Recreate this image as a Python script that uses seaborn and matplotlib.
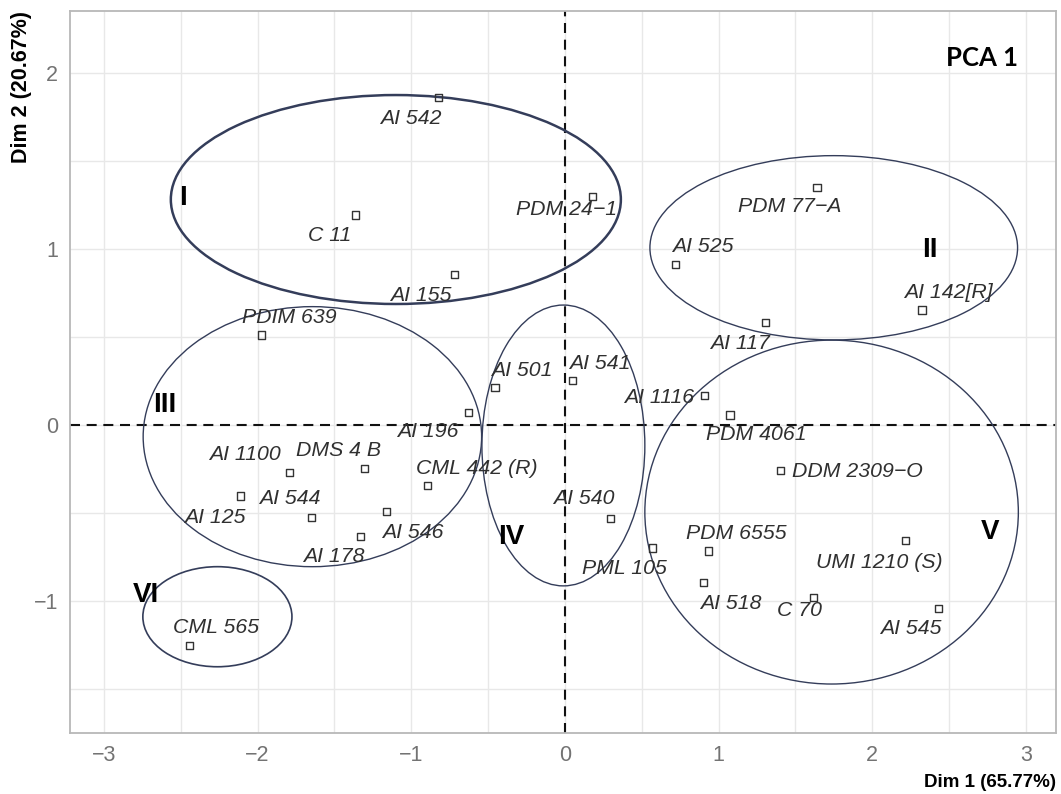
import matplotlib
matplotlib.use("Agg")
import matplotlib.pyplot as plt
from matplotlib.patches import Ellipse
from matplotlib.ticker import MultipleLocator
import pandas as pd
import seaborn as sns

# Genotype scores on the first two principal components
genotypes = [
    "AI 542", "C 11", "PDM 24\u22121", "AI 155", "PDIM 639", "AI 501", "AI 196",
    "AI 541", "AI 1116", "AI 117", "PDM 77\u2212A", "AI 525", "AI 142[R]",
    "PDM 4061", "DDM 2309\u2212O", "AI 1100", "DMS 4 B", "CML 442 (R)", "AI 125",
    "AI 544", "AI 546", "AI 178", "AI 540", "PML 105", "PDM 6555", "AI 518",
    "C 70", "UMI 1210 (S)", "AI 545", "CML 565",
]
dim1 = [
    -0.820, -1.364, 0.178, -0.720, -1.976, -0.455, -0.627,
    0.048, 0.911, 1.303, 1.640, 0.718, 2.323,
    1.074, 1.403, -1.789, -1.303, -0.896, -2.110,
    -1.646, -1.160, -1.329, 0.295, 0.568, 0.937, 0.900,
    1.620, 2.217, 2.429, -2.444,
]
dim2 = [
    1.858, 1.192, 1.296, 0.857, 0.511, 0.214, 0.070,
    0.255, 0.170, 0.583, 1.347, 0.912, 0.653,
    0.057, -0.259, -0.271, -0.246, -0.344, -0.403,
    -0.524, -0.492, -0.634, -0.528, -0.698, -0.715, -0.895,
    -0.978, -0.653, -1.040, -1.252,
]

# Cluster ellipses (centre and semi-axes in PC units)
clusters = ["I", "II", "III", "IV", "V", "VI"]
ell_cx = [-1.100, 1.749, -1.643, -0.010, 1.735, -2.261]
ell_cy = [1.280, 1.006, -0.066, -0.116, -0.494, -1.088]
ell_rx = [1.464, 1.196, 1.101, 0.530, 1.215, 0.485]
ell_ry = [0.593, 0.523, 0.738, 0.797, 0.976, 0.284]

# Label text offsets from each point, in pixels (repel-style placement)
label_dx = [-28, -26, -26, -33, 28, 27, -41, 27, -46, -25, -27, 28, 26,
            26, 77, -45, -26, 50, -26, -22, 26, -27, -26, -28, 27, 28,
            -14, -26, -27, 27]
label_dy = [-21, -20, -13, -21, 18, 17, -19, 17, -2, -21, -19, 18, 17,
            -20, -1, 18, 18, 17, -21, 19, -21, -20, 20, -20, 18, -21,
            -13, -22, -20, 18]

# Cluster numeral placement and ellipse stroke widths
cluster_tx = [-2.483, 2.375, -2.602, -0.347, 2.765, -2.726]
cluster_ty = [1.287, 0.993, 0.114, -0.634, -0.605, -0.965]
ell_lw = [1.8, 1.0, 1.0, 1.0, 1.0, 1.2]

df = pd.DataFrame({"genotype": genotypes, "Dim1": dim1, "Dim2": dim2})

sns.set_theme(style="white")
plt.rcParams["font.family"] = ["Liberation Sans", "DejaVu Sans"]

fig = plt.figure(figsize=(10.61, 7.94), dpi=100)
ax = fig.add_axes([70 / 1061, 1 - 733 / 794, 986 / 1061, 722 / 794])

ax.set_xlim(-3.22, 3.195)
ax.set_ylim(-1.748, 2.35)

ax.xaxis.set_major_locator(MultipleLocator(1))
ax.xaxis.set_minor_locator(MultipleLocator(0.5))
ax.yaxis.set_major_locator(MultipleLocator(1))
ax.yaxis.set_minor_locator(MultipleLocator(0.5))
ax.grid(which="both", color="#e8e8e8", linewidth=1.0, zorder=0)
ax.set_axisbelow(True)

for s in ax.spines.values():
    s.set_color("#b8b8b8")
    s.set_linewidth(1.3)

ax.tick_params(axis="both", which="major", length=3.5, width=1.0,
               color="#b8b8b8", labelcolor="#737373", labelsize=15.5, pad=5)
ax.tick_params(axis="both", which="minor", length=0)
ax.set_xticks([-3, -2, -1, 0, 1, 2, 3])
ax.set_xticklabels(["\u22123", "\u22122", "\u22121", "0", "1", "2", "3"])
ax.set_yticks([-1, 0, 1, 2])
ax.set_yticklabels(["\u22121", "0", "1", "2"])

# Reference lines through the origin
ax.axhline(0, color="#111111", lw=1.5, ls=(0, (4.8, 3.2)), zorder=2)
ax.axvline(0, color="#111111", lw=1.5, ls=(0, (4.8, 3.2)), zorder=2)

# Cluster ellipses
for cx, cy, rx, ry, lw in zip(ell_cx, ell_cy, ell_rx, ell_ry, ell_lw):
    ax.add_patch(Ellipse((cx, cy), 2 * rx, 2 * ry, fill=False,
                         edgecolor="#343d5a", linewidth=lw, zorder=3))

# Individuals
sns.scatterplot(data=df, x="Dim1", y="Dim2", marker="s", s=26,
                facecolor="none", edgecolor="#333333", linewidth=1.0,
                ax=ax, zorder=4, legend=False)

for name, x, y, dx, dy in zip(genotypes, dim1, dim2, label_dx, label_dy):
    ax.annotate(name, (x, y), xytext=(dx, dy), textcoords="offset pixels",
                ha="center", va="center", fontsize=15.3, style="italic",
                color="#303030", zorder=5)

for name, x, y in zip(clusters, cluster_tx, cluster_ty):
    ax.text(x, y, name, ha="center", va="center", fontsize=20,
            fontweight="bold", color="#000000", zorder=6)

ax.text(2.716, 2.083, "PCA 1", ha="center", va="center", fontsize=18.5,
        fontweight="bold", family=["Lato", "DejaVu Sans"], color="#000000")

ax.set_xlabel("Dim 1 (65.77%)", fontsize=13.5, fontweight="bold",
              color="#000000", loc="right", labelpad=6)
ax.set_ylabel("Dim 2 (20.67%)", fontsize=15.5, fontweight="bold",
              color="#000000", loc="top", labelpad=1)

fig.savefig("out.png", dpi=100)
